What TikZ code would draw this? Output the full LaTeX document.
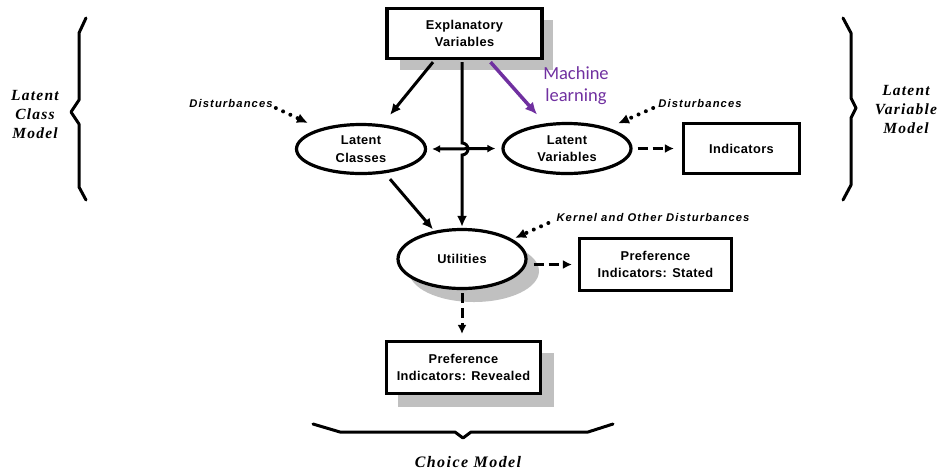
\documentclass[tikz,border=0pt]{standalone}
\usepackage{fontspec}
\setmainfont{Liberation Serif}
\newfontfamily\boxfont[LetterSpace=3]{Liberation Sans}
\newfontfamily\distfont[LetterSpace=10]{Liberation Sans}
\newfontfamily\sidefont[LetterSpace=8]{Liberation Serif}
\newfontfamily\choicefont[LetterSpace=9]{Liberation Serif}
\newfontfamily\mlfont{Carlito}
\usetikzlibrary{arrows.meta,calc,shapes.geometric}
\definecolor{mlpurple}{RGB}{112,48,160}
\definecolor{shadowgray}{RGB}{192,192,192}
\tikzset{
  box/.style={draw, line width=3.2pt, fill=white, align=center, inner sep=0pt,
    font=\boxfont\bfseries\fontsize{12.8}{17.5}\selectfont},
  oval/.style={ellipse, draw, line width=3.2pt, fill=white, align=center, inner sep=0pt,
    font=\boxfont\bfseries\fontsize{12.8}{17.5}\selectfont},
  distlbl/.style={inner sep=0pt, font=\distfont\bfseries\itshape\fontsize{11.2}{13}\selectfont},
  sidelbl/.style={inner sep=0pt, align=center, font=\sidefont\bfseries\itshape\fontsize{15.5}{19}\selectfont},
  choicelbl/.style={inner sep=0pt, font=\choicefont\bfseries\itshape\fontsize{16}{18}\selectfont},
  mllbl/.style={inner sep=0pt, align=center, text=mlpurple, font=\mlfont\fontsize{18.5}{22}\selectfont},
  solidarr/.style={line width=3pt, -{Latex[length=11pt,width=10pt]}},
  dblarr/.style={line width=3pt, {Latex[length=8pt,width=8pt]}-{Latex[length=8pt,width=8pt]}},
  dasharr/.style={line width=3pt, dash pattern=on 10pt off 5pt, -{Latex[length=9pt,width=9pt]}},
  dotarr/.style={line width=4pt, line cap=round, dash pattern=on 0pt off 8pt, -{Latex[length=11pt,width=10pt]}},
  mlarr/.style={line width=3.5pt, draw=mlpurple, -{Latex[length=12pt,width=11pt]}},
  bracestroke/.style={line width=3pt, line join=round, line cap=round},
}
\begin{document}
\begin{tikzpicture}[x=1pt,y=-1pt]
\useasboundingbox (0,0) rectangle (941,475);

% shadows
\fill[shadowgray] (400,20) rectangle (553,70);
\fill[shadowgray] (474,271) ellipse [x radius=65pt, y radius=31pt];
\fill[shadowgray] (398,353) rectangle (554,407);

% nodes
\node[box, minimum width=155pt, minimum height=50pt] (ev) at (464.5,33.5) {Explanatory\\Variables};
\node[oval, minimum width=129pt, minimum height=49pt] (lc) at (361,149) {Latent\\Classes};
\node[oval, minimum width=128pt, minimum height=50pt] (lv) at (567,148.5) {Latent\\Variables};
\node[box, minimum width=116pt, minimum height=50pt] (ind) at (741.5,148.5) {Indicators};
\node[oval, minimum width=128pt, minimum height=59pt] (ut) at (462,259) {Utilities};
\node[box, minimum width=152pt, minimum height=52pt] (ps) at (655.5,264.5) {Preference\\Indicators: Stated};
\node[box, minimum width=154pt, minimum height=52pt] (pr) at (463.5,367.5) {Preference\\Indicators: Revealed};

% labels
\node[distlbl] (d1) at (231,103) {Disturbances};
\node[distlbl] (d2) at (700,103) {Disturbances};
\node[distlbl] (d3) at (653,217) {Kernel and Other Disturbances};
\node[mllbl] (ml) at (576,86) {Machine\\learning};
\node[sidelbl] (lcm) at (35,114) {Latent\\Class\\Model};
\node[sidelbl] (lvm) at (906,109) {Latent\\Variable\\Model};
\node[choicelbl] (cm) at (468,462) {Choice Model};

% connectors
\coordinate (hop) at (462,149);
\draw[solidarr] ($(ev.south)+(-31.5,2)$) -- ($(lc.north)+(29,-8)$);
\draw[solidarr] ($(ev.south)+(-2.5,2)$) -- ($(hop)+(0,-6)$) arc[start angle=90, end angle=-90, radius=6pt] -- ($(ut.north)+(0,-1)$);
\draw[mlarr] ($(ev.south)+(26,2)$) -- ($(lv.center)+(-30,-34)$);
\draw[solidarr] ($(lc.south)+(29,4)$) -- ($(ut.north)+(-29,1.5)$);
\draw[dblarr] ($(lc.east)+(5,0)$) -- ($(lv.west)+(-6,0)$);
\draw[dasharr] ($(lv.east)+(5,0)$) -- ($(ind.west)+(-8,0)$);
\draw[dasharr] ($(ut.east)+(6,5.5)$) -- ($(ps.west)+(-6,0)$);
\draw[dasharr] ($(ut.south)+(0,3)$) -- ($(ut.south |- pr.north)+(0,-6)$);
\draw[dotarr] ($(d1.east)+(3,5)$) -- ($(lc.center)+(-53,-26)$);
\draw[dotarr] ($(d2.west)+(-5,5)$) -- ($(lv.center)+(51,-25)$);
\draw[dotarr] ($(d3.west)+(-8,6)$) -- ($(ut.center)+(53,-21)$);

% braces
\draw[bracestroke] (86,18) -- (79,33) -- (79,100) -- (71,112) -- (79,124) -- (79,187) -- (86,200);
\draw[bracestroke] (843,18) -- (851,33) -- (851,98) -- (856,108) -- (851,118) -- (851,185) -- (843,200);
\draw[bracestroke] (313,424) -- (340,432) -- (455,432) -- (463,438) -- (471,432) -- (588,432) -- (613,424);
\end{tikzpicture}
\end{document}
